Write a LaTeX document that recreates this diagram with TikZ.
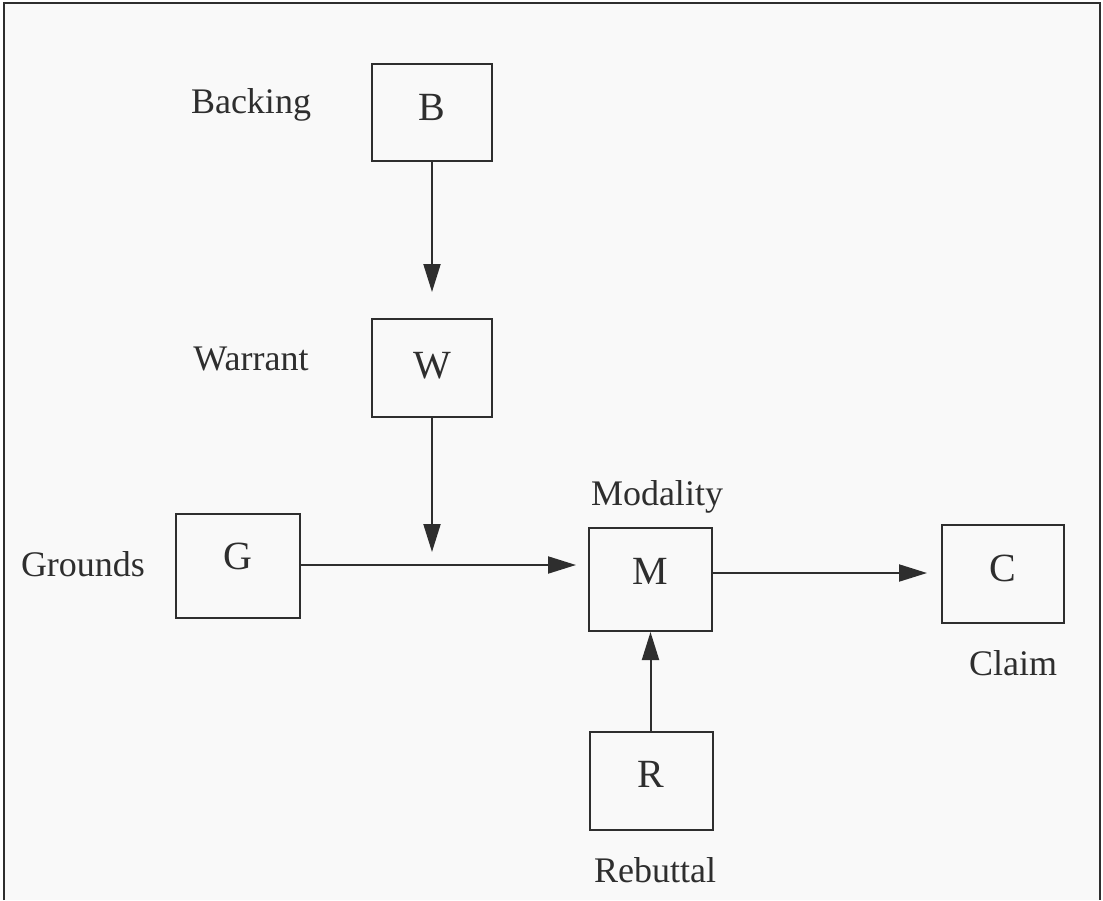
\documentclass[tikz,border=0pt]{standalone}
\usepackage{fontspec}
\setmainfont{Liberation Serif}
\usetikzlibrary{arrows.meta}
\definecolor{ink}{HTML}{2E2E2E}
\begin{document}
\begin{tikzpicture}[x=1pt,y=-1pt,
  box/.style={draw=ink,line width=2pt,inner sep=0pt,text=ink,font=\fontsize{40}{40}\selectfont,text height=27pt},
  lbl/.style={text=ink,font=\fontsize{36}{36}\selectfont,inner sep=0pt,anchor=base},
  arr/.style={draw=ink,line width=2pt,-{Triangle[length=28pt,width=17pt]}},
  frame/.style={draw=ink,line width=2.2pt}]
\useasboundingbox (0,0) rectangle (1103,900);
\fill[gray!5] (4,3) rectangle (1100,900);
\draw[frame] (4,900) -- (4,3) -- (1100,3) -- (1100,900);
% boxes
\node[box,minimum width=120pt,minimum height=97pt,text depth=10pt] (B) at (432,112) {B};
\node[box,minimum width=120pt,minimum height=98pt,text depth=6pt] (W) at (432,368) {W};
\node[box,minimum width=124pt,minimum height=104pt,text depth=20pt] (G) at (238,566) {G};
\node[box,minimum width=123pt,minimum height=103pt,text depth=18pt] (M) at (650.5,579.5) {M};
\node[box,minimum width=122pt,minimum height=98pt,text depth=12pt] (C) at (1003,574) {C};
\node[box,minimum width=123pt,minimum height=98pt,text depth=14pt] (R) at (651,781) {R};
% labels
\node[lbl] (lB) at (251,113) {Backing};
\node[lbl] (lW) at (251,370) {Warrant};
\node[lbl] (lG) at (83,576) {Grounds};
\node[lbl] (lM) at (657,505) {Modality};
\node[lbl] (lC) at (1013,675) {Claim};
\node[lbl] (lR) at (655,882) {Rebuttal};
% connectors
\coordinate (j) at (432,552);
\draw[arr,shorten >=26pt] (B.south) -- (W.north);
\draw[arr] (W.south) -- (j);
\draw[arr,shorten >=12pt] (G.east |- 0,565) -- (M.west |- 0,565);
\draw[arr,shorten >=14pt] (M.east |- 0,573) -- (C.west |- 0,573);
\draw[arr] (R.north -| 650.5,0) -- (M.south);
\end{tikzpicture}
\end{document}
